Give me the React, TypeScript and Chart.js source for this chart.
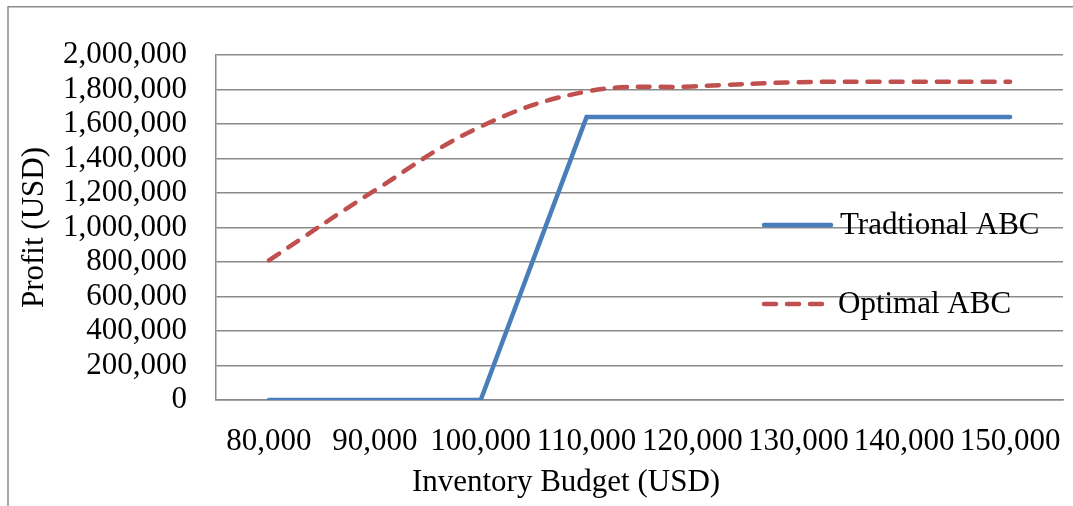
import React, { useEffect, useRef } from "react";
import { Chart, registerables } from "chart.js";

Chart.register(...registerables);

const categories = ["80,000", "90,000", "100,000", "110,000", "120,000", "130,000", "140,000", "150,000"];
const traditionalABC = [0, 0, 0, 1640000, 1640000, 1640000, 1640000, 1640000];
const optimalABC = [810000, 1215000, 1585000, 1788000, 1818000, 1842000, 1845000, 1845000];
const seriesNames = ["Tradtional ABC", "Optimal ABC"];
const xTitle = "Inventory Budget (USD)";
const yTitle = "Profit (USD)";
const yMin = 0;
const yMax = 2000000;
const yStep = 200000;

const BLUE = "#4A7EBB";
const RED = "#C0504D";
const GRID = "#8A8A8A";
const FONT = "'Liberation Serif', 'Times New Roman', serif";
const FS = 31;

const framePlugin = {
  id: "frame",
  beforeDraw(chart: any) {
    const ctx = chart.ctx;
    ctx.save();
    ctx.strokeStyle = "#8C8C8C";
    ctx.lineWidth = 1.5;
    ctx.beginPath();
    ctx.moveTo(8, chart.height);
    ctx.lineTo(8, 6.7);
    ctx.lineTo(chart.width, 6.7);
    ctx.stroke();
    ctx.restore();
  },
};

const xTitlePlugin = {
  id: "xTitle",
  afterDraw(chart: any) {
    const ctx = chart.ctx;
    ctx.save();
    ctx.fillStyle = "#000";
    ctx.font = `${FS}px ${FONT}`;
    ctx.textAlign = "center";
    ctx.textBaseline = "middle";
    ctx.fillText(xTitle, 566, 483);
    ctx.restore();
  },
};

const legendPlugin = {
  id: "insideLegend",
  afterDatasetsDraw(chart: any) {
    const ctx = chart.ctx;
    const items = [
      { y: 225, x0: 764, x1: 831, tx: 840, ds: chart.data.datasets[0] },
      { y: 304, x0: 764, x1: 823, tx: 838, ds: chart.data.datasets[1] },
    ];
    ctx.save();
    for (const it of items) {
      ctx.beginPath();
      ctx.strokeStyle = it.ds.borderColor;
      ctx.lineWidth = it.ds.borderWidth;
      ctx.lineCap = "round";
      ctx.setLineDash(it.ds.borderDash || []);
      ctx.moveTo(it.x0, it.y);
      ctx.lineTo(it.x1, it.y);
      ctx.stroke();
      ctx.setLineDash([]);
      ctx.fillStyle = "#000";
      ctx.font = `${FS}px ${FONT}`;
      ctx.textBaseline = "middle";
      ctx.textAlign = "left";
      ctx.fillText(it.ds.label, it.tx, it.y + 1);
    }
    ctx.restore();
  },
};

export default function App() {
  const ref = useRef<HTMLCanvasElement | null>(null);

  useEffect(() => {
    document.body.style.margin = "0";
    const canvas = ref.current;
    if (!canvas) return;
    const chart = new Chart(canvas, {
      type: "line",
      data: {
        labels: categories,
        datasets: [
          {
            label: seriesNames[0],
            data: traditionalABC,
            borderColor: BLUE,
            backgroundColor: BLUE,
            borderWidth: 4.5,
            pointRadius: 0,
            tension: 0,
            borderCapStyle: "round",
            borderJoinStyle: "miter",
          },
          {
            label: seriesNames[1],
            data: optimalABC,
            borderColor: RED,
            backgroundColor: RED,
            borderWidth: 4.5,
            borderDash: [12, 11],
            borderCapStyle: "round",
            pointRadius: 0,
            tension: 0.4,
          },
        ],
      },
      options: {
        responsive: false,
        animation: false,
        layout: { padding: { left: 0, top: 55, right: 10, bottom: 0 } },
        plugins: {
          legend: { display: false },
          tooltip: { enabled: false },
        },
        scales: {
          x: {
            type: "category",
            offset: true,
            grid: { display: false, drawTicks: false },
            border: { display: true, color: GRID, width: 1.5 },
            ticks: {
              color: "#000",
              font: { family: FONT, size: FS },
              padding: 23,
              maxRotation: 0,
              autoSkip: false,
            },
            title: { display: false },
            afterFit(scale: any) {
              scale.height = 106;
              scale.paddingLeft = 0;
              scale.paddingRight = 0;
            },
          },
          y: {
            min: yMin,
            max: yMax,
            grid: { color: GRID, lineWidth: 1.5, drawTicks: false },
            border: { display: true, color: GRID, width: 1.5 },
            ticks: {
              stepSize: yStep,
              autoSkip: false,
              color: "#000",
              font: { family: FONT, size: FS },
              padding: 29,
              callback: (v: any) => Number(v).toLocaleString("en-US"),
            },
            title: {
              display: true,
              text: yTitle,
              color: "#000",
              font: { family: FONT, size: FS },
              padding: { top: 16, bottom: 0 },
            },
            afterFit(scale: any) {
              scale.width = 216;
              scale.paddingTop = 0;
              scale.paddingBottom = 0;
            },
          },
        },
      },
      plugins: [framePlugin, legendPlugin, xTitlePlugin],
    } as any);
    return () => chart.destroy();
  }, []);

  return <canvas ref={ref} width={1073} height={506} style={{ display: "block" }} />;
}
